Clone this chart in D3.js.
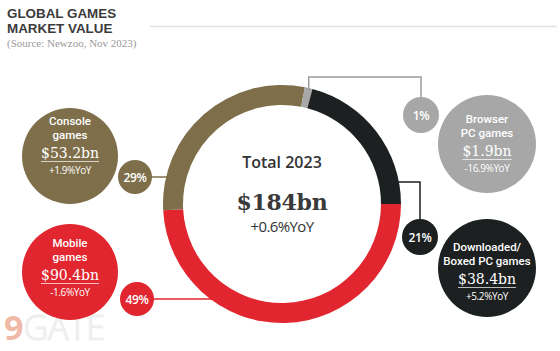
<!DOCTYPE html>
<meta charset="utf-8">
<script src="https://d3js.org/d3.v7.min.js"></script>
<style type="text/css">
body { margin: 0; background: #fff; }
.sans { font-family: "Open Sans", "Noto Sans", sans-serif; }
.label { font-family: Roboto, "Liberation Sans", sans-serif; }
.serif { font-family: "DejaVu Serif", serif; }
</style>
<body>
<div id="canvas"></div>
<script>

// data
var categories = ["Mobile games", "Console games", "Browser PC games", "Downloaded/Boxed PC games"];
var values = [90.4, 53.2, 1.9, 38.4];
var shareLabels = ["49%", "29%", "1%", "21%"];
var valueLabels = ["$90.4bn", "$53.2bn", "$1.9bn", "$38.4bn"];
var yoyLabels = ["-1.6%YoY", "+1.9%YoY", "-16.9%YoY", "+5.2%YoY"];
var nameLines = [["Mobile", "games"], ["Console", "games"], ["Browser", "PC games"], ["Downloaded/", "Boxed PC games"]];
var colors = ["#e1262f", "#7e6f4a", "#a7a7a7", "#1c2020"];
var total = {year: "Total 2023", value: "$184bn", yoy: "+0.6%YoY"};

var width = 560, height = 351;
var cx = 282, cy = 204, rOut = 119, rIn = 99;

// bubble layout (not data)
var bubbles = [
  {x: 70, y: 272, r: 48, shift: -1, sx: 137, sy: 299, link: "h"},
  {x: 70, y: 156, r: 48, shift: -7, sx: 135, sy: 177, link: "h"},
  {x: 487, y: 144, r: 49, shift: 3, sx: 421, sy: 115, link: "up", ly: 77},
  {x: 487, y: 268, r: 49, shift: 7, sx: 420, sy: 237, link: "up", ly: 182}
];

var svg = d3.select("#canvas").append("svg")
  .attr("width", width)
  .attr("height", height);

// title -------------------------------------------------------------
var title = svg.append("text")
  .style("font-family", "Liberation Sans, Arial, sans-serif")
  .style("font-size", "13.4px").style("font-weight", 700)
  .style("fill", "#3b3b3b");
title.append("tspan").attr("x", 7).attr("y", 18).text("GLOBAL GAMES");
title.append("tspan").attr("x", 7).attr("y", 33).text("MARKET VALUE");

svg.append("text")
  .attr("x", 7).attr("y", 47)
  .style("font-family", "Liberation Serif, serif")
  .style("font-size", "11px")
  .style("fill", "#9a9a9a")
  .text("(Source: Newzoo, Nov 2023)");
svg.append("line")
  .attr("x1", 150).attr("x2", 557)
  .attr("y1", 26.5).attr("y2", 26.5)
  .style("stroke", "#e2e2e2").style("stroke-width", 1.5);

// watermark
var wm = svg.append("text").attr("x", 4).attr("y", 340)
  .attr("class", "sans")
  .style("font-size", "34px").style("font-weight", 700);
wm.append("tspan").style("fill", "#f1b9a7").text("9");
wm.append("tspan").style("fill", "none").style("stroke", "#ececec")
  .style("stroke-width", 1.2).style("font-weight", 300).text("GATE");

// donut ---------------------------------------------------------------
var pie = d3.pie()
  .sort(null)
  .startAngle(Math.PI / 2)
  .endAngle(Math.PI / 2 + 2 * Math.PI)
  .value(function(d) { return d; });
var arcs = pie(values);

var arc = d3.arc().innerRadius(rIn).outerRadius(rOut);

var g = svg.append("g").attr("transform", "translate(" + cx + "," + cy + ")");
g.selectAll("path.slice")
  .data(arcs)
  .enter().append("path")
  .attr("class", "slice")
  .attr("d", arc)
  .style("fill", function(d, i) { return colors[i]; });

g.append("text").attr("class", "sans")
  .attr("text-anchor", "middle").attr("y", -36)
  .style("font-size", "16px").style("font-weight", 600)
  .style("fill", "#333")
  .text(total.year);
g.append("text").attr("class", "serif")
  .attr("text-anchor", "middle").attr("y", 6)
  .style("font-size", "22px").style("font-weight", 700)
  .style("letter-spacing", "-0.3px")
  .style("fill", "#3a3a3a")
  .text(total.value);
g.append("text").attr("class", "sans")
  .attr("text-anchor", "middle").attr("y", 28)
  .style("font-size", "15px").style("font-weight", 500)
  .style("letter-spacing", "-0.6px")
  .style("fill", "#333")
  .text(total.yoy);

// connectors ----------------------------------------------------------
function ringX(y, side) {
  var dy = y - cy;
  return cx + side * Math.sqrt(rOut * rOut - dy * dy);
}

bubbles.forEach(function(b, i) {
  var pts;
  if (b.link === "h") {
    pts = [[b.sx, b.sy], [ringX(b.sy, -1) + 2, b.sy]];
  } else {
    // vertical up from share bubble, then to the slice
    var a = arcs[i];
    var mid = (a.startAngle + a.endAngle) / 2;
    if (i === 2) {
      var px = cx + rOut * Math.sin(mid);
      var py = cy - rOut * Math.cos(mid);
      pts = [[b.sx, b.sy], [b.sx, b.ly], [px, b.ly], [px, py + 2]];
    } else {
      pts = [[b.sx, b.sy], [b.sx, b.ly], [ringX(b.ly, 1) - 2, b.ly]];
    }
  }
  svg.append("path")
    .attr("d", d3.line()(pts))
    .style("fill", "none")
    .style("stroke", colors[i] === "#a7a7a7" ? "#9c9c9c" : colors[i])
    .style("stroke-width", 1.5);
});

// bubbles -------------------------------------------------------------
bubbles.forEach(function(b, i) {
  var bg = svg.append("g");
  bg.append("circle")
    .attr("cx", b.x).attr("cy", b.y).attr("r", b.r)
    .style("fill", colors[i]);
  bg.append("circle")
    .attr("cx", b.sx).attr("cy", b.sy).attr("r", i > 1 ? 18 : 17)
    .style("fill", colors[i]);
  bg.append("text").attr("class", "sans")
    .attr("x", b.sx).attr("y", b.sy + 4.5)
    .attr("text-anchor", "middle")
    .style("font-size", "12px").style("font-weight", 600)
    .style("letter-spacing", "-0.3px")
    .style("fill", "#fff")
    .text(shareLabels[i]);

  var t = b.y + b.shift;
  var name = bg.append("text").attr("class", "label")
    .attr("text-anchor", "middle")
    .style("font-size", "11.5px").style("font-weight", 500)
    .style("fill", "#fff");
  nameLines[i].forEach(function(s, k) {
    name.append("tspan")
      .attr("x", b.x).attr("y", t - 24 + k * 13.5)
      .text(s);
  });
  var vt = bg.append("text").attr("class", "serif")
    .attr("x", b.x).attr("y", t + 9)
    .attr("text-anchor", "middle")
    .style("font-size", "14px").style("font-weight", 400)
    .style("fill", "#fff")
    .text(valueLabels[i]);
  var w = vt.node().getComputedTextLength();
  bg.append("line")
    .attr("x1", b.x - w / 2).attr("x2", b.x + w / 2)
    .attr("y1", t + 12.5).attr("y2", t + 12.5)
    .style("stroke", "rgba(255,255,255,0.7)").style("stroke-width", 1);
  bg.append("text").attr("class", "sans")
    .attr("x", b.x).attr("y", t + 25)
    .attr("text-anchor", "middle")
    .style("font-size", "10px").style("font-weight", 400)
    .style("letter-spacing", "-0.4px")
    .style("fill", "#fff")
    .text(yoyLabels[i]);
});
</script>
</body>
